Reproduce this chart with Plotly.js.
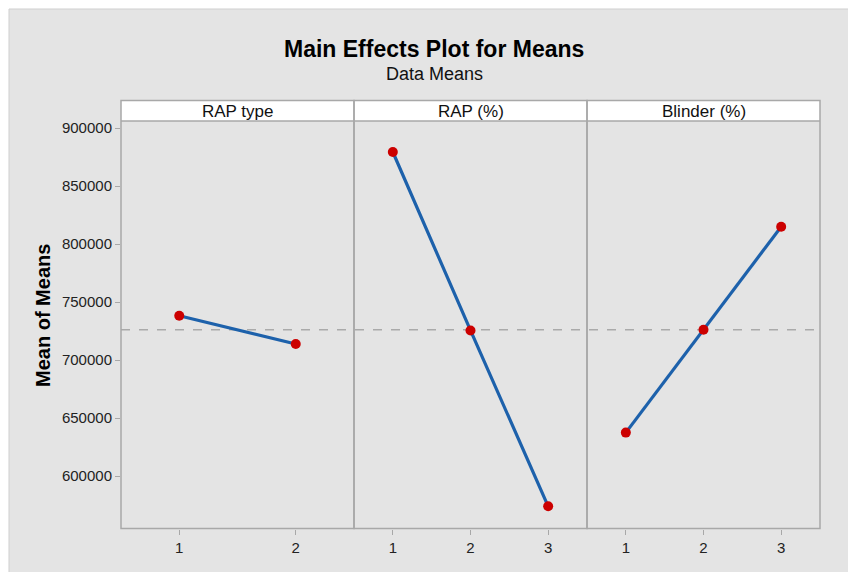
<!DOCTYPE html>
<html>
<head>
<meta charset="utf-8">
<script src="https://cdn.plot.ly/plotly-3.0.1.min.js"></script>
<style>html,body{margin:0;padding:0;background:#fff;}</style>
</head>
<body>
<div id="chart" style="width:848px;height:572px;"></div>
<script>
// Factors (panel headers) and their levels
const factors = ["RAP type", "RAP (%)", "Blinder (%)"];
const rapTypeLevels = [1, 2];
const rapPctLevels = [1, 2, 3];
const blinderLevels = [1, 2, 3];
// Mean of means at each level
const rapTypeMeans = [738200, 713800];
const rapPctMeans = [879300, 725500, 573900];
const blinderMeans = [637400, 726100, 814900];
// Y tick labels
const yTicks = [600000, 650000, 700000, 750000, 800000, 850000, 900000];

const grandMean = (rapTypeMeans.reduce((a,b)=>a+b,0)/rapTypeMeans.length +
                   rapPctMeans.reduce((a,b)=>a+b,0)/rapPctMeans.length +
                   blinderMeans.reduce((a,b)=>a+b,0)/blinderMeans.length) / 3;

const W = 848, H = 572;
const px = v => v / W;
const py = v => (H - v) / H;

const plotL = 121, plotR = 820, plotT = 121, plotB = 528.5, headT = 100.5;
const d1 = [px(121), px(354)], d2 = [px(354), px(587)], d3 = [px(587), px(820)];
const yDom = [py(plotB), py(plotT)];

const lineColor = '#1d61ab';
const markerColor = '#cc0000';
const borderColor = '#a8a8a8';
const font = 'Liberation Sans, Arial, sans-serif';

function series(x, y, xa) {
  return {
    x: x, y: y, xaxis: xa, yaxis: 'y', type: 'scatter', mode: 'lines+markers',
    line: {color: lineColor, width: 3.2},
    marker: {color: markerColor, size: 10},
    hoverinfo: 'x+y', showlegend: false
  };
}

const data = [
  series(rapTypeLevels, rapTypeMeans, 'x'),
  series(rapPctLevels, rapPctMeans, 'x2'),
  series(blinderLevels, blinderMeans, 'x3')
];

function xax(domain, levels) {
  return {
    domain: domain, anchor: 'y',
    range: [0.5, levels.length + 0.5],
    tickvals: levels, ticktext: levels.map(String),
    ticks: 'outside', ticklen: 5, tickwidth: 1, tickcolor: borderColor,
    showline: false, showgrid: false, zeroline: false,
    tickfont: {family: font, size: 15, color: '#222'},
    fixedrange: true
  };
}

const yRange = [554741, 906034];

const shapes = [
  {type:'rect', xref:'paper', yref:'paper', x0: px(9), x1: 1.01, y0: -0.01, y1: py(9),
   fillcolor:'#e4e4e4', line:{color:'#cfcfcf', width:1}, layer:'below'},
  {type:'rect', xref:'paper', yref:'paper', x0: px(plotL), x1: px(plotR), y0: py(plotT), y1: py(headT),
   fillcolor:'#ffffff', line:{width:0}, layer:'below'},
  {type:'line', xref:'paper', yref:'y', x0: px(plotL), x1: px(plotR), y0: grandMean, y1: grandMean,
   line:{color:'#aaaaaa', width:1.5, dash:'dash'}, layer:'below'},
];
[d1, d2, d3].forEach(d => {
  shapes.push({type:'rect', xref:'paper', yref:'paper', x0: d[0], x1: d[1], y0: yDom[0], y1: py(headT),
    line:{color: borderColor, width: 1.5}, fillcolor:'rgba(0,0,0,0)', layer:'above'});
});
shapes.push({type:'line', xref:'paper', yref:'paper', x0: px(plotL), x1: px(plotR), y0: py(plotT), y1: py(plotT),
  line:{color: borderColor, width: 1.5}, layer:'above'});

const annotations = [
  {text:'<b>Main Effects Plot for Means</b>', xref:'paper', yref:'paper', x: px(434), y: py(49),
   showarrow:false, xanchor:'center', yanchor:'middle', font:{family: font, size: 23, color:'#000'}},
  {text:'Data Means', xref:'paper', yref:'paper', x: px(434), y: py(74),
   showarrow:false, xanchor:'center', yanchor:'middle', font:{family: font, size: 18, color:'#111'}},
  {text:'<b>Mean of Means</b>', xref:'paper', yref:'paper', x: px(43), y: py(316), textangle:-90,
   showarrow:false, xanchor:'center', yanchor:'middle', font:{family: font, size: 20, color:'#000'}}
];
[d1, d2, d3].forEach((d, i) => {
  annotations.push({text: factors[i], xref:'paper', yref:'paper', x: (d[0]+d[1])/2, y: py(111),
    showarrow:false, xanchor:'center', yanchor:'middle', font:{family: font, size: 17, color:'#111'}});
});

const layout = {
  width: W, height: H,
  margin: {l:0, r:0, t:0, b:0, pad:0},
  paper_bgcolor: '#ffffff', plot_bgcolor: '#ffffff',
  showlegend: false,
  xaxis: xax(d1, rapTypeLevels),
  xaxis2: xax(d2, rapPctLevels),
  xaxis3: xax(d3, blinderLevels),
  yaxis: {
    domain: yDom, anchor: 'x', range: yRange,
    tickvals: yTicks, ticktext: yTicks.map(v => String(v)),
    ticks: 'outside', ticklen: 5, tickwidth: 1, tickcolor: borderColor,
    showgrid: false, zeroline: false, showline: false,
    tickfont: {family: font, size: 15, color: '#222'},
    fixedrange: true
  },
  shapes: shapes,
  annotations: annotations
};

Plotly.newPlot('chart', data, layout, {displayModeBar: false, staticPlot: true});
</script>
</body>
</html>
